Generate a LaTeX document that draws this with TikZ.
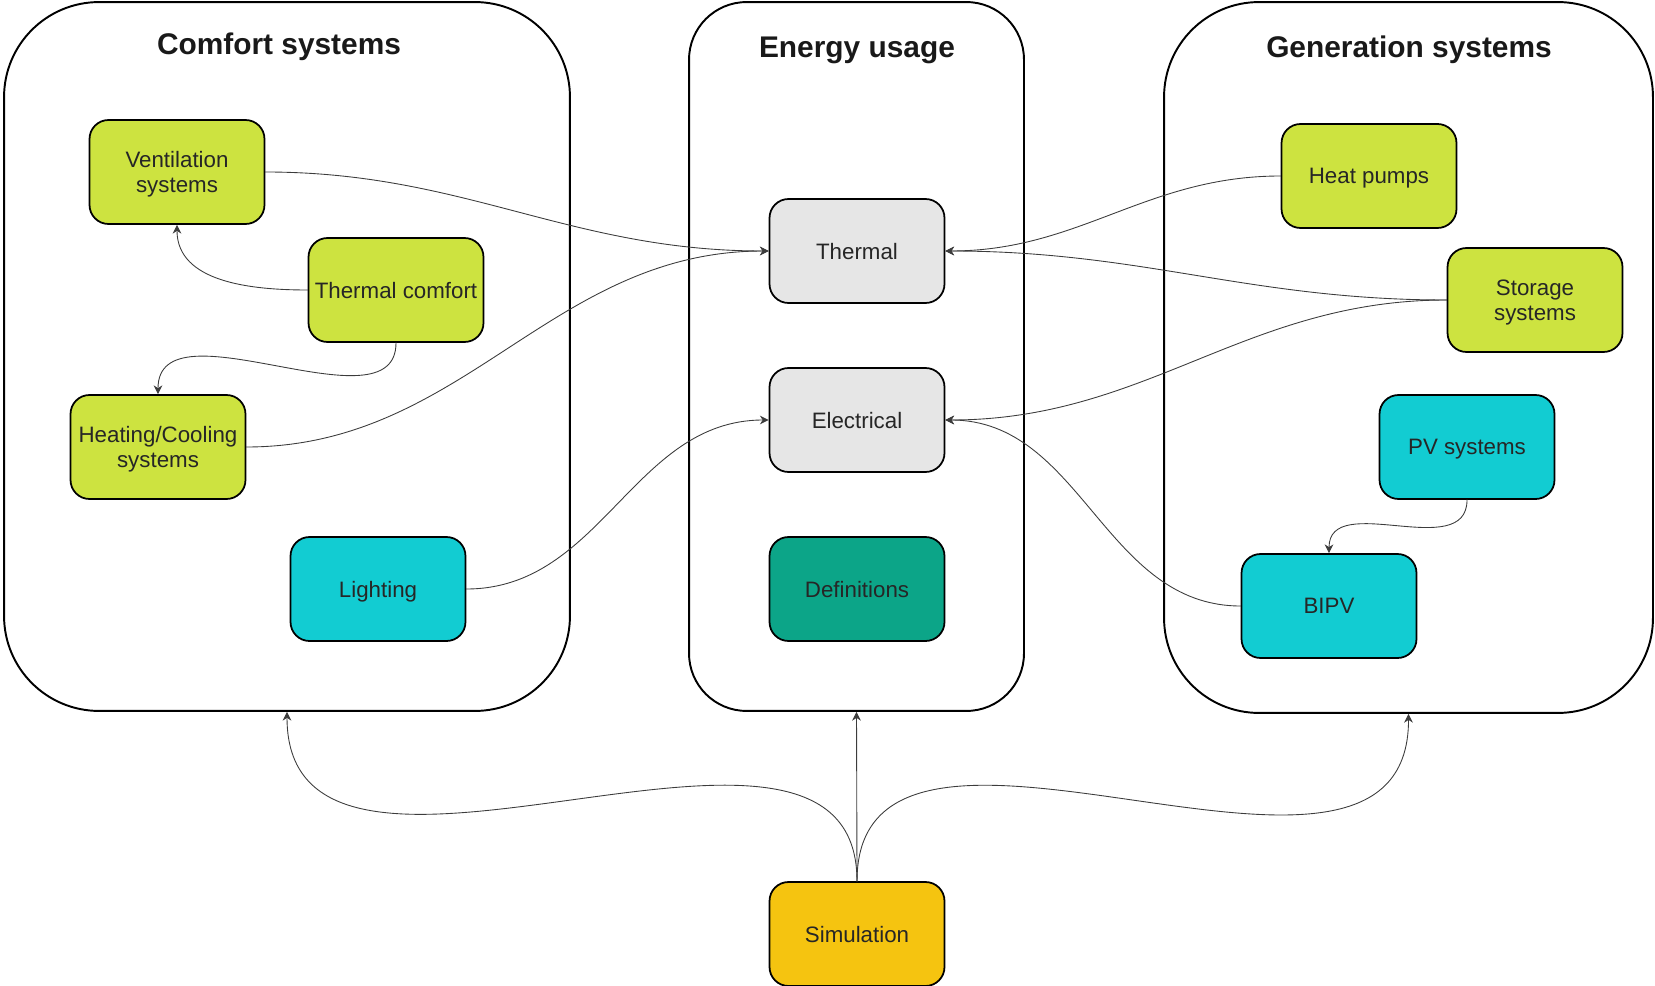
\documentclass[tikz,border=0pt]{standalone}
\usepackage{fontspec}
\setmainfont{Liberation Sans}
\usetikzlibrary{arrows.meta}
\definecolor{limebox}{RGB}{205,227,64}
\definecolor{cyanbox}{RGB}{18,204,210}
\definecolor{greybox}{RGB}{230,230,230}
\definecolor{tealbox}{RGB}{12,165,136}
\definecolor{simbox}{RGB}{245,196,16}
\definecolor{edge}{RGB}{60,60,60}

\begin{document}
\begin{tikzpicture}[x=0.02cm,y=-0.02cm,line cap=round,line join=round,>={Stealth[length=5pt,width=5pt]},
    group/.style={draw=black,line width=1.1pt,rounded corners=1.9cm},
    box/.style={draw=black,line width=1pt,rounded corners=0.38cm,minimum width=3.5cm,minimum height=2.08cm,
      align=center,inner sep=1pt,text depth=0pt,font=\fontsize{12.7}{14.4}\selectfont,text=black!85},
    title/.style={font=\fontsize{17}{20}\selectfont\bfseries,text=black!90},
    link/.style={->,draw=edge,line width=0.5pt}]
    \useasboundingbox (0,0) rectangle (1655,986);

    \node[group,minimum width=11.32cm,minimum height=14.18cm] (comfort) at (287,356.5) {};
    \node[group,rounded corners=1.15cm,minimum width=6.7cm,minimum height=14.18cm] (energy) at (856.5,356.5) {};
    \node[group,minimum width=9.78cm,minimum height=14.22cm] (generation) at (1408.5,357.5) {};
    \node[title] (tcomfortsys) at (279,47) {Comfort systems};
    \node[title] (tenergy) at (857,50) {Energy usage};
    \node[title] (tgeneration) at (1409,50) {Generation systems};

    \node[box,fill=limebox] (vent) at (177,172) {Ventilation\\systems};
    \node[box,fill=limebox] (tcomfort) at (396,290) {Thermal comfort};
    \node[box,fill=limebox] (heat) at (158,447) {Heating/Cooling\\systems};
    \node[box,fill=cyanbox] (light) at (378,589) {Lighting};

    \node[box,fill=greybox] (thermal) at (857,251) {Thermal};
    \node[box,fill=greybox] (elec) at (857,420) {Electrical};
    \node[box,fill=tealbox] (defs) at (857,589) {Definitions};

    \node[box,fill=limebox] (hpump) at (1369,176) {Heat pumps};
    \node[box,fill=limebox] (storage) at (1535,300) {Storage\\systems};
    \node[box,fill=cyanbox] (pv) at (1467,447) {PV systems};
    \node[box,fill=cyanbox] (bipv) at (1329,606) {BIPV};

    \node[box,fill=simbox] (sim) at (857,934) {Simulation};

    \draw[link] (tcomfort.west) to[out=180,in=-90] (vent.south);
    \draw[link] (tcomfort.south) .. controls +(0,90) and +(0,-95) .. (heat.north);
    \draw[link] (vent.east) to[out=0,in=180] (thermal.west);
    \draw[link] (heat.east) to[out=0,in=180] (thermal.west);
    \draw[link] (light.east) to[out=0,in=180] (elec.west);

    \draw[link] (hpump.west) to[out=180,in=0] (thermal.east);
    \draw[link] (storage.west) to[out=180,in=0] (thermal.east);
    \draw[link] (storage.west) to[out=180,in=0] (elec.east);
    \draw[link] (bipv.west) to[out=180,in=0] (elec.east);
    \draw[link] (pv.south) .. controls +(0,63) and +(0,-63) .. (bipv.north);

    \draw[link] (sim.north) .. controls (857,640) and (287,960) .. (comfort.south);
    \draw[link] (sim.north) -- (energy.south);
    \draw[link] (sim.north) .. controls (857,640) and (1409,960) .. (generation.south);
  \end{tikzpicture}
\end{document}
